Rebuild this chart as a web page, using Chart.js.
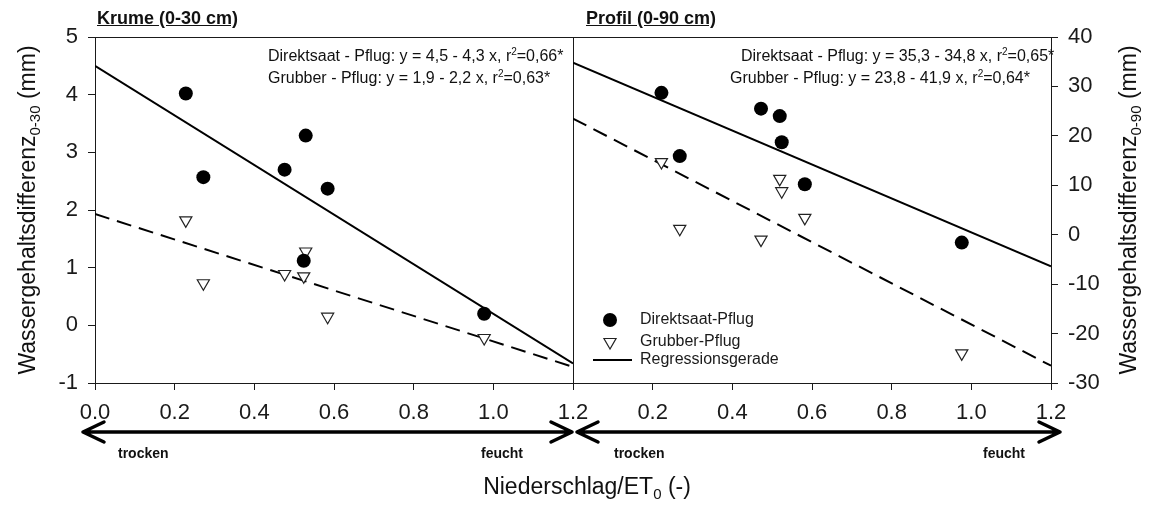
<!DOCTYPE html>
<html>
<head>
<meta charset="utf-8">
<script src="https://cdn.jsdelivr.net/npm/chart.js@4.4.1/dist/chart.umd.min.js"></script>
<style>
  html, body { margin: 0; padding: 0; background: #fff; }
  #wrap { position: relative; width: 1149px; height: 506px; overflow: hidden;
          font-family: 'Liberation Sans', Arial, sans-serif; color: #111; }
  canvas { position: absolute; top: 0; }
  #krume { left: 0; }
  #profil { left: 540px; }
  .txt { position: absolute; white-space: nowrap; }
  .panel-title { top: 8px; font-size: 18px; font-weight: bold; text-decoration: underline; line-height: 20px; }
  .eq { font-size: 16px; line-height: 22px; }
  .eq sup { font-size: 10px; vertical-align: 6px; line-height: 0; }
  .ytitle { width: 380px; text-align: center; font-size: 23px; line-height: 26px; transform: rotate(-90deg); }
  .ytitle sub, .xtitle sub { font-size: 15px; vertical-align: -5px; line-height: 0; }
  .xtitle { top: 473px; left: 387px; width: 400px; text-align: center; font-size: 23px; line-height: 26px; }
  .dir { top: 444px; font-size: 14px; font-weight: bold; line-height: 18px; }
</style>
</head>
<body>
<div id="wrap">
  <canvas id="krume" width="620" height="506"></canvas>
  <canvas id="profil" width="609" height="506"></canvas>

  <div class="txt panel-title" style="left:97px;">Krume (0-30 cm)</div>
  <div class="txt panel-title" style="left:586px;">Profil (0-90 cm)</div>

  <div class="txt eq" style="left:268px; top:45px;">Direktsaat - Pflug: y = 4,5 - 4,3 x, r<sup>2</sup>=0,66*</div>
  <div class="txt eq" style="left:268px; top:67px;">Grubber - Pflug: y = 1,9 - 2,2 x, r<sup>2</sup>=0,63*</div>
  <div class="txt eq" style="left:741px; top:45px;">Direktsaat - Pflug: y = 35,3 - 34,8 x, r<sup>2</sup>=0,65*</div>
  <div class="txt eq" style="left:730px; top:67px;">Grubber - Pflug: y = 23,8 - 41,9 x, r<sup>2</sup>=0,64*</div>

  <div class="txt ytitle" style="left:-163px; top:197px;">Wassergehaltsdifferenz<sub>0-30</sub> (mm)</div>
  <div class="txt ytitle" style="left:938px; top:197px;">Wassergehaltsdifferenz<sub>0-90</sub> (mm)</div>

  <div class="txt dir" style="left:118px;">trocken</div>
  <div class="txt dir" style="left:481px;">feucht</div>
  <div class="txt dir" style="left:614px;">trocken</div>
  <div class="txt dir" style="left:983px;">feucht</div>

  <div class="txt xtitle">Niederschlag/ET<sub>0</sub> (-)</div>
</div>

<script>
const xTicks = [0, 0.2, 0.4, 0.6, 0.8, 1.0, 1.2];
const yTicksKrume = [-1, 0, 1, 2, 3, 4, 5];
const yTicksProfil = [-30, -20, -10, 0, 10, 20, 30, 40];

// Niederschlag/ET0 of the seven years, as read in each panel
const nsKrume = [0.228, 0.272, 0.476, 0.529, 0.524, 0.584, 0.977];
const direktKrume = [4.02, 2.57, 2.70, 3.29, 1.12, 2.37, 0.20];
const grubberKrume = [1.82, 0.73, 0.89, 1.28, 0.85, 0.15, -0.22];

const nsProfil = [0.222, 0.268, 0.472, 0.519, 0.524, 0.582, 0.976];
const direktProfil = [28.7, 15.9, 25.5, 24.0, 18.7, 10.2, -1.6];
const grubberProfil = [14.7, 1.2, -1.0, 11.3, 8.8, 3.4, -24.0];

// regression lines, endpoints at x = 0 and x = 1.2
const regX = [0, 1.2];
const regDirektKrume = [4.5, -0.66];
const regGrubberKrume = [1.93, -0.72];
const regDirektProfil = [34.8, -6.4];
const regGrubberProfil = [23.5, -26.5];

const FONT = "'Liberation Sans', Arial, sans-serif";
const INK = "#1a1a1a";

function pts(xs, ys) {
  return xs.map((x, i) => ({ x, y: ys[i] }));
}

function datasets(xs, direkt, grubber, regD, regG) {
  return [
    {
      label: "Direktsaat-Pflug",
      data: pts(xs, direkt),
      showLine: false,
      pointStyle: "circle",
      pointRadius: 7,
      pointBackgroundColor: "#000",
      pointBorderColor: "#000",
      pointBorderWidth: 0,
      order: 1,
    },
    {
      label: "Grubber-Pflug",
      data: pts(xs, grubber),
      showLine: false,
      pointStyle: "triangle",
      pointRotation: 180,
      pointRadius: 7,
      pointBackgroundColor: "#fff",
      pointBorderColor: "#222",
      pointBorderWidth: 1.2,
      order: 2,
    },
    {
      label: "Regressionsgerade",
      data: pts(regX, regD),
      showLine: true,
      pointRadius: 0,
      borderColor: "#000",
      borderWidth: 2,
      order: 3,
    },
    {
      label: "Regressionsgerade Grubber",
      data: pts(regX, regG),
      showLine: true,
      pointRadius: 0,
      borderColor: "#000",
      borderWidth: 2,
      borderDash: [15, 8],
      order: 3,
    },
  ];
}

function xAxis(hideZero) {
  return {
    type: "linear",
    position: "bottom",
    min: 0,
    max: 1.2,
    afterBuildTicks: (s) => { s.ticks = xTicks.map((v) => ({ value: v })); },
    afterFit: (s) => { s.height = 123; },
    ticks: {
      font: { family: FONT, size: 22 },
      color: INK,
      padding: 10,
      maxRotation: 0,
      autoSkip: false,
      callback: (v) => (hideZero && v === 0 ? "" : v.toFixed(1)),
    },
    grid: { drawOnChartArea: false, tickLength: 7, color: INK, tickWidth: 1 },
    border: { color: INK, width: 1 },
  };
}

function yAxis(position, ticks, width) {
  return {
    type: "linear",
    position,
    min: ticks[0],
    max: ticks[ticks.length - 1],
    afterBuildTicks: (s) => { s.ticks = ticks.map((v) => ({ value: v })); },
    afterFit: (s) => { s.width = width; },
    ticks: {
      font: { family: FONT, size: 22 },
      color: INK,
      padding: 10,
      autoSkip: false,
    },
    grid: { drawOnChartArea: false, tickLength: 7, color: INK, tickWidth: 1 },
    border: { color: INK, width: 1 },
  };
}

const framePlugin = {
  id: "frame",
  beforeDatasetsDraw(chart) {
    const { ctx, chartArea: a } = chart;
    const l = Math.round(a.left) + 0.5, r = Math.round(a.right) + 0.5;
    const t = Math.round(a.top) + 0.5, b = Math.round(a.bottom) + 0.5;
    ctx.save();
    ctx.strokeStyle = INK;
    ctx.lineWidth = 1;
    ctx.strokeRect(l, t, r - l, b - t);
    ctx.restore();
  },
};

const arrowPlugin = {
  id: "arrow",
  afterDraw(chart, args, opts) {
    const { ctx, chartArea: a } = chart;
    const y = a.bottom + 49;
    const x0 = a.left + opts.left, x1 = a.right + opts.right;
    ctx.save();
    ctx.strokeStyle = "#000";
    ctx.lineWidth = 3.5;
    ctx.lineCap = "round";
    ctx.lineJoin = "round";
    ctx.beginPath();
    ctx.moveTo(x0, y);
    ctx.lineTo(x1, y);
    ctx.moveTo(x0 + 21, y - 10);
    ctx.lineTo(x0, y);
    ctx.lineTo(x0 + 21, y + 10);
    ctx.moveTo(x1 - 21, y - 10);
    ctx.lineTo(x1, y);
    ctx.lineTo(x1 - 21, y + 10);
    ctx.stroke();
    ctx.restore();
  },
};

const legendPlugin = {
  id: "boxLegend",
  afterDraw(chart) {
    const { ctx, chartArea: a } = chart;
    const mx = a.left + 37, tx = a.left + 67;
    const rows = [a.bottom - 63, a.bottom - 41, a.bottom - 23];
    ctx.save();
    ctx.font = `16px ${FONT}`;
    ctx.textBaseline = "middle";

    // filled circle
    ctx.beginPath();
    ctx.arc(mx, rows[0], 7, 0, Math.PI * 2);
    ctx.fillStyle = "#000";
    ctx.fill();

    // open triangle, point down
    const r = 7, y = rows[1];
    ctx.beginPath();
    ctx.moveTo(mx, y + r);
    ctx.lineTo(mx - r * Math.sin(Math.PI / 3), y - r / 2);
    ctx.lineTo(mx + r * Math.sin(Math.PI / 3), y - r / 2);
    ctx.closePath();
    ctx.fillStyle = "#fff";
    ctx.fill();
    ctx.strokeStyle = "#222";
    ctx.lineWidth = 1.2;
    ctx.stroke();

    // line sample
    ctx.beginPath();
    ctx.moveTo(a.left + 20, rows[2]);
    ctx.lineTo(a.left + 59, rows[2]);
    ctx.strokeStyle = "#000";
    ctx.lineWidth = 2;
    ctx.stroke();

    ctx.fillStyle = INK;
    ctx.fillText("Direktsaat-Pflug", tx, rows[0]);
    ctx.fillText("Grubber-Pflug", tx, rows[1]);
    ctx.fillText("Regressionsgerade", tx, rows[2]);
    ctx.restore();
  },
};

function baseOptions(scales, padding, arrow) {
  return {
    responsive: false,
    animation: false,
    events: [],
    layout: { padding },
    scales,
    plugins: {
      legend: { display: false },
      tooltip: { enabled: false },
      arrow,
    },
  };
}

new Chart(document.getElementById("krume"), {
  type: "scatter",
  data: { datasets: datasets(nsKrume, direktKrume, grubberKrume, regDirektKrume, regGrubberKrume) },
  options: baseOptions(
    { x: xAxis(false), y: yAxis("left", yTicksKrume, 95) },
    { top: 37, right: 47, left: 0, bottom: 0 },
    { left: -12, right: -1 }
  ),
  plugins: [framePlugin, arrowPlugin],
});

new Chart(document.getElementById("profil"), {
  type: "scatter",
  data: { datasets: datasets(nsProfil, direktProfil, grubberProfil, regDirektProfil, regGrubberProfil) },
  options: baseOptions(
    { x: xAxis(true), y: yAxis("right", yTicksProfil, 98) },
    { top: 37, right: 0, left: 33, bottom: 0 },
    { left: 4, right: 9 }
  ),
  plugins: [framePlugin, arrowPlugin, legendPlugin],
});
</script>
</body>
</html>
